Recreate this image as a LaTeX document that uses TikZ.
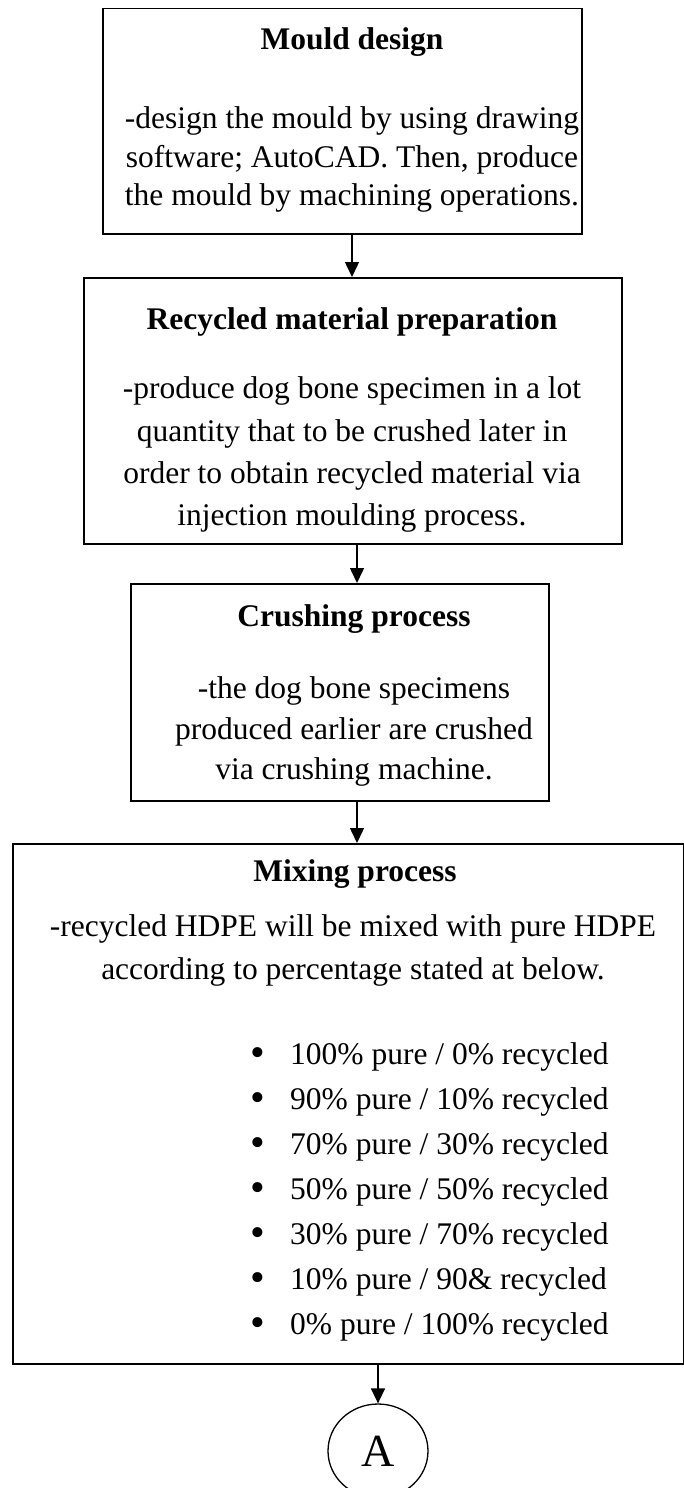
\documentclass[tikz,border=0pt]{standalone}
\usepackage{fontspec}
\setmainfont{Liberation Serif}
\usetikzlibrary{arrows.meta,shapes.geometric}
\begin{document}
\begin{tikzpicture}[x=1pt,y=-1pt,
  box/.style={draw, line width=1.5pt, inner sep=0pt, anchor=north west},
  ln/.style={anchor=base, inner sep=0pt, font=\fontsize{31.5}{38}\selectfont},
  ttl/.style={ln, font=\fontsize{31.5}{38}\selectfont\bfseries},
  itm/.style={anchor=base west, inner sep=0pt, font=\fontsize{31.5}{38}\selectfont},
  bul/.style={anchor=base, inner sep=0pt, font=\fontsize{42}{44}\selectfont},
  arr/.style={line width=1.5pt, -{Triangle[length=15pt,width=14pt]}}]
\useasboundingbox (0,0) rectangle (684,1488);
% boxes
\node[box, minimum width=479pt, minimum height=225pt] (b1) at (102,8) {};
\node[box, minimum width=538pt, minimum height=266pt] (b2) at (83,277) {};
\node[box, minimum width=418pt, minimum height=217pt] (b3) at (130,583) {};
\node[box, minimum width=671pt, minimum height=520pt] (b4) at (12,843) {};
\node[draw, ellipse, line width=1.3pt, minimum width=100pt, minimum height=94pt, inner sep=0pt,
      font=\fontsize{46}{50}\selectfont] (A) at (378,1451) {A};
% box 1
\node[ttl] (t1) at (352,50) {Mould design};
\node[ln] (l1a) at (352,128) {-design the mould by using drawing};
\node[ln] (l1b) at (352,167) {software; AutoCAD. Then, produce};
\node[ln] (l1c) at (352,205) {the mould by machining operations.};
% box 2
\node[ttl] (t2) at (352,329) {Recycled material preparation};
\node[ln] (l2a) at (352,398) {-produce dog bone specimen in a lot};
\node[ln] (l2b) at (352,441) {quantity that to be crushed later in};
\node[ln] (l2c) at (352,483) {order to obtain recycled material via};
\node[ln] (l2d) at (352,525) {injection moulding process.};
% box 3
\node[ttl] (t3) at (354,626) {Crushing process};
\node[ln] (l3a) at (354,698) {-the dog bone specimens};
\node[ln] (l3b) at (354,739) {produced earlier are crushed};
\node[ln] (l3c) at (354,779) {via crushing machine.};
% box 4
\node[ttl] (t4) at (355,881) {Mixing process};
\node[ln] (l4a) at (353,936) {-recycled HDPE will be mixed with pure HDPE};
\node[ln] (l4b) at (353,979) {according to percentage stated at below.};
\foreach \i/\y/\t in {1/1064/{100\% pure / 0\% recycled},
                      2/1109/{90\% pure / 10\% recycled},
                      3/1154/{70\% pure / 30\% recycled},
                      4/1199/{50\% pure / 50\% recycled},
                      5/1244/{30\% pure / 70\% recycled},
                      6/1289/{10\% pure / 90\& recycled},
                      7/1334/{0\% pure / 100\% recycled}}{
  \node[bul] (bu\i) at (258,\y+2) {•};
  \node[itm] (it\i) at (290,\y) {\t};
}
% connectors
\coordinate (xa) at (352,0);
\coordinate (xb) at (357,0);
\coordinate (xc) at (378,0);
\draw[arr] (b1.south -| xa) -- (b2.north -| xa);
\draw[arr] (b2.south -| xb) -- (b3.north -| xb);
\draw[arr] (b3.south -| xb) -- (b4.north -| xb);
\draw[arr] (b4.south -| xc) -- (A.north);
\end{tikzpicture}
\end{document}
